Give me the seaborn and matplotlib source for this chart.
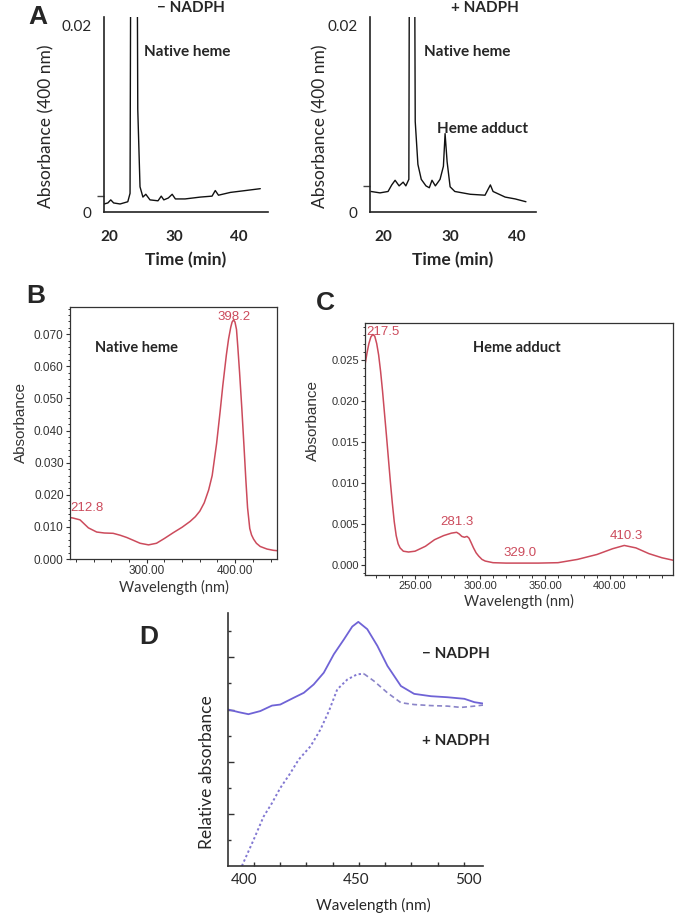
import matplotlib
matplotlib.use("Agg")
import matplotlib.pyplot as plt
from matplotlib.ticker import FixedLocator, MultipleLocator, NullFormatter
import seaborn as sns

# Panel A: HPLC traces, absorbance at 400 nm vs retention time
time_minus = [19.1, 19.7, 20.15, 20.6, 21.6, 22.8, 23.15, 23.35, 24.15, 24.35, 24.7, 25.15, 25.6, 26.25,
              27.5, 28.0, 28.4, 29.1, 29.7, 30.2, 31.7, 34.1, 35.9, 36.4, 36.9, 38.75, 41.1, 43.4]
abs_minus = [0.00086, 0.00097, 0.0013, 0.00097, 0.00086, 0.0011, 0.002, 0.05, 0.05, 0.011, 0.0027, 0.0016,
             0.0019, 0.0013, 0.0012, 0.0017, 0.0013, 0.0015, 0.0019, 0.0014, 0.0014, 0.0016, 0.0017, 0.0023,
             0.0018, 0.0021, 0.0023, 0.0025]
time_plus = [18.2, 19.55, 20.75, 21.3, 21.8, 22.4, 23.0, 23.4, 23.85, 24.0, 24.6, 24.8, 25.2, 25.7, 26.4,
             26.9, 27.3, 27.8, 28.5, 29.0, 29.25, 29.55, 30.0, 30.7, 33.0, 35.2, 36.0, 36.4, 38.2, 39.7, 41.3]
abs_plus = [0.0022, 0.00205, 0.0022, 0.0029, 0.0034, 0.0028, 0.0032, 0.0028, 0.0035, 0.05, 0.05, 0.0097,
            0.0051, 0.0035, 0.0028, 0.0026, 0.0034, 0.0028, 0.0035, 0.0049, 0.0084, 0.0054, 0.0027, 0.0022,
            0.0019, 0.0018, 0.0029, 0.0022, 0.0016, 0.0014, 0.0011]
baseline_mark = [0.0017, 0.0028]

# Panel B: native heme spectrum
wl_native = [213.3, 216, 224.5, 234, 243.4, 252, 262, 270, 277.4, 285, 292.5, 302, 311, 320, 330, 340, 349,
             355, 360, 365, 370, 374, 379, 383, 386, 390, 392.5, 395, 396.5, 398.2, 399.8, 401.5, 403,
             405, 407.5, 410, 412, 414, 416.5, 418.5, 420.8, 424, 428.3, 436, 443.3, 447.3]
abs_native = [0.0129, 0.0128, 0.0122, 0.0097, 0.0084, 0.0081, 0.0080, 0.0074, 0.0067, 0.0058, 0.0049, 0.0044,
              0.0049, 0.0064, 0.0082, 0.0099, 0.0117, 0.0132, 0.0149, 0.0175, 0.0215, 0.026, 0.036, 0.046,
              0.054, 0.0635, 0.0685, 0.0722, 0.0738, 0.0745, 0.0738, 0.0715, 0.066, 0.058, 0.047, 0.035,
              0.025, 0.016, 0.0095, 0.0075, 0.0062, 0.0049, 0.0039, 0.0031, 0.0027, 0.0026]

# Panel C: heme adduct spectrum
wl_adduct = [211.5, 213, 214.5, 216, 217.5, 219, 220.5, 222, 223.5, 225, 226.5, 228, 229.5, 231, 232.5, 234,
             235.5, 237, 238.5, 241, 245, 250, 258, 265, 272, 278, 282, 284, 286, 288, 290, 291.5, 293, 295,
             297, 299, 301.5, 304, 310, 320, 330, 345, 360, 375, 390, 402, 411, 420, 430, 440, 448.5]
abs_adduct = [0.0244, 0.0258, 0.0270, 0.0278, 0.0281, 0.0279, 0.0270, 0.0256, 0.0236, 0.0212, 0.0185,
              0.0158, 0.0130, 0.0102, 0.0076, 0.0053, 0.0036, 0.0026, 0.0021, 0.0017, 0.0016, 0.0017, 0.0023,
              0.0031, 0.0036, 0.0039, 0.0040, 0.0038, 0.0035, 0.0034, 0.0035, 0.0033, 0.0028, 0.0021, 0.0015,
              0.0011, 0.0007, 0.0005, 0.0003, 0.00025, 0.00025, 0.00025, 0.0003, 0.0007, 0.0013, 0.0020,
              0.0024, 0.0021, 0.0014, 0.0009, 0.0006]

# Panel D: relative absorbance (arbitrary units)
wl_d_minus = [392.8, 397.5, 401.9, 407.2, 412.4, 416.1, 422.1, 426.6, 431.0, 435.5, 440.0, 444.5, 448.2,
              450.9, 454.9, 459.4, 463.9, 469.9, 475.8, 483.3, 490.7, 498.2, 502.7, 506.5]
rel_d_minus = [6.00, 5.90, 5.82, 5.94, 6.15, 6.19, 6.45, 6.64, 6.96, 7.41, 8.12, 8.69, 9.18, 9.36, 9.08,
               8.44, 7.67, 6.90, 6.60, 6.51, 6.47, 6.41, 6.28, 6.23]
wl_d_plus = [399.0, 404.2, 408.7, 412.4, 416.1, 420.6, 424.3, 429.6, 434.0, 437.8, 441.5, 446.0, 450.4,
             453.4, 457.9, 463.9, 469.9, 475.8, 483.3, 490.7, 496.7, 502.7, 506.5]
rel_d_plus = [0.0, 1.00, 1.90, 2.41, 2.99, 3.56, 4.08, 4.59, 5.23, 5.94, 6.77, 7.15, 7.35, 7.37, 7.09, 6.64,
              6.26, 6.19, 6.15, 6.13, 6.08, 6.13, 6.17]

# peak labels for B and C
peaks_b = [("212.8", 214, 0.0159, "left"), ("398.2", 398.3, 0.0755, "center")]
peaks_c = [("217.5", 212.3, 0.0284, "left"), ("281.3", 282, 0.0052, "center"),
           ("329.0", 330.7, 0.0015, "center"), ("410.3", 412.8, 0.0035, "center")]

sns.set_style("ticks")
plt.rcParams['font.family'] = ['Lato', 'DejaVu Sans']

W, H = 678, 916
fig = plt.figure(figsize=(W / 100, H / 100), dpi=100)


def rect(l, t, r, b):
    return [l / W, 1 - b / H, (r - l) / W, (b - t) / H]


RED = "#cc4b5c"
ARIAL = ['Liberation Sans', 'DejaVu Sans']

# ---------------- A ----------------
panels_a = [
    (104, 268, time_minus, abs_minus, "\u2212 NADPH", 0.53, (19.1, 44.6), -0.30, baseline_mark[0]),
    (370, 536, time_plus, abs_plus, "+ NADPH", 0.69, (18.06, 42.8), -0.25, baseline_mark[1]),
]
for (l, r, x, y, title, tx, xlim, ylab_x, mark) in panels_a:
    ax = fig.add_axes(rect(l, 17, r, 212))
    sns.lineplot(x=x, y=y, ax=ax, color="#111111", linewidth=1.0)
    ax.set_xlim(*xlim)
    ax.set_ylim(0, 0.0209)
    sns.despine(ax=ax)
    for s in ("left", "bottom"):
        ax.spines[s].set_linewidth(1.2)
        ax.spines[s].set_color("#222222")
    ax.set_yticks([0, 0.02])
    ax.set_yticklabels(["0", "0.02"], fontsize=11)
    ax.yaxis.set_minor_locator(FixedLocator([mark]))
    ax.tick_params(axis="y", which="minor", length=5, width=1.0, color="#444444")
    ax.set_xticks([20, 30, 40])
    ax.set_xticklabels(["20", "30", "40"], fontsize=11, fontweight="bold")
    ax.tick_params(axis="both", which="major", length=0)
    ax.tick_params(axis="y", which="major", pad=9)
    ax.tick_params(axis="x", which="major", pad=13)
    ax.set_xlabel("Time (min)", fontsize=12.5, fontweight="bold", labelpad=6)
    ax.set_ylabel("Absorbance (400 nm)", fontsize=12.5)
    ax.yaxis.set_label_coords(ylab_x, 0.44)
    ax.text(tx, 1.046, title, transform=ax.transAxes, ha="center", va="center",
            fontsize=11, fontweight="bold")
    if title.startswith("+"):
        ax.text(32.5, 0.0171, "Native heme", ha="center", va="center", fontsize=11, fontweight="bold")
        ax.text(34.9, 0.0089, "Heme adduct", ha="center", va="center", fontsize=11, fontweight="bold")
    else:
        ax.text(32.0, 0.0171, "Native heme", ha="center", va="center", fontsize=11, fontweight="bold")

# ---------------- B ----------------
axb = fig.add_axes(rect(70, 307, 277, 559))
sns.lineplot(x=wl_native, y=abs_native, ax=axb, color=RED, linewidth=1.1)
axb.set_xlim(213.2, 447.3)
axb.set_ylim(0, 0.0785)
axb.set_xticks([300, 400])
axb.set_xticklabels(["300.00", "400.00"])
axb.xaxis.set_minor_locator(MultipleLocator(20))
axb.set_yticks([0.0, 0.01, 0.02, 0.03, 0.04, 0.05, 0.06, 0.07])
axb.set_yticklabels(["0.000", "0.010", "0.020", "0.030", "0.040", "0.050", "0.060", "0.070"])
axb.yaxis.set_minor_locator(MultipleLocator(0.002))
axb.set_xlabel("Wavelength (nm)", fontsize=10.5, labelpad=2)
axb.set_ylabel("Absorbance", fontsize=11, family=ARIAL)
axb.yaxis.set_label_coords(-0.203, 0.54)
axb.text(288, 0.0657, "Native heme", ha="center", va="center", fontsize=10.5, fontweight="bold")
for lab, px, py, ha in peaks_b:
    axb.text(px, py, lab, ha=ha, va="center", color=RED, fontsize=9.5, family=ARIAL)

# ---------------- C ----------------
axc = fig.add_axes(rect(365, 323, 673, 575))
sns.lineplot(x=wl_adduct, y=abs_adduct, ax=axc, color=RED, linewidth=1.1)
axc.set_xlim(211.5, 448.5)
axc.set_ylim(-0.0012, 0.0295)
axc.set_xticks([250, 300, 350, 400])
axc.set_xticklabels(["250.00", "300.00", "350.00", "400.00"])
axc.xaxis.set_minor_locator(MultipleLocator(10))
axc.set_yticks([0.0, 0.005, 0.01, 0.015, 0.02, 0.025])
axc.set_yticklabels(["0.000", "0.005", "0.010", "0.015", "0.020", "0.025"])
axc.yaxis.set_minor_locator(MultipleLocator(0.001))
axc.set_xlabel("Wavelength (nm)", fontsize=10.5, labelpad=2)
axc.set_ylabel("Absorbance", fontsize=11, family=ARIAL)
axc.yaxis.set_label_coords(-0.146, 0.615)
axc.text(328.4, 0.0265, "Heme adduct", ha="center", va="center", fontsize=10.5, fontweight="bold")
for lab, px, py, ha in peaks_c:
    axc.text(px, py, lab, ha=ha, va="center", color=RED, fontsize=9.5, family=ARIAL)

for ax in (axb, axc):
    for s in ax.spines.values():
        s.set_linewidth(0.9)
        s.set_color("#333333")
    ax.tick_params(axis="both", which="major", length=3, width=0.8, pad=1.5,
                   labelsize=8.5, colors="#333333")
    ax.tick_params(axis="both", which="minor", length=1.8, width=0.7, colors="#333333")
    for lbl in ax.get_xticklabels() + ax.get_yticklabels():
        lbl.set_family(ARIAL)
    ax.xaxis.label.set_color("#333333")
    ax.yaxis.label.set_color("#333333")
axc.tick_params(axis="both", which="major", labelsize=8)

# ---------------- D ----------------
axd = fig.add_axes(rect(228, 613, 483, 866))
sns.lineplot(x=wl_d_minus, y=rel_d_minus, ax=axd, color="#6f63d6", linewidth=1.3)
# + NADPH trace: dotted on the rising side, dashed after the maximum
split = rel_d_plus.index(max(rel_d_plus))
sns.lineplot(x=wl_d_plus[:split + 1], y=rel_d_plus[:split + 1], ax=axd, color="#8278d2",
             linewidth=1.4, linestyle=(0, (1.2, 1.3)))
sns.lineplot(x=wl_d_plus[split:], y=rel_d_plus[split:], ax=axd, color="#8a84c8",
             linewidth=1.2, linestyle=(0, (3.0, 2.0)))
axd.set_xlim(392.8, 506.5)
axd.set_ylim(0, 9.7)
sns.despine(ax=axd)
for s in ("left", "bottom"):
    axd.spines[s].set_linewidth(1.2)
    axd.spines[s].set_color("#333333")
axd.set_xticks([400, 450, 500])
axd.set_xticklabels(["400", "450", "500"], fontsize=11)
axd.xaxis.set_minor_locator(FixedLocator([404.4, 416.1, 427.8, 439.5, 451.2, 462.9, 474.6, 486.3, 498.0]))
axd.tick_params(axis="x", which="major", length=0, pad=5)
axd.tick_params(axis="x", which="minor", direction="in", length=3, width=1.0, colors="#333333")
axd.set_yticks([2, 4, 6, 8])
axd.set_yticklabels([])
axd.yaxis.set_minor_locator(FixedLocator([1, 3, 5, 7, 9]))
axd.yaxis.set_minor_formatter(NullFormatter())
axd.tick_params(axis="y", which="major", direction="in", length=4, width=1.0, colors="#333333")
axd.tick_params(axis="y", which="minor", direction="in", length=2.5, width=1.0, colors="#333333")
axd.set_xlabel("Wavelength (nm)", fontsize=11)
axd.xaxis.set_label_coords(0.57, -0.125)
axd.set_ylabel("Relative absorbance", fontsize=12.5)
axd.yaxis.set_label_coords(-0.05, 0.37)
axd.text(494.3, 8.12, "\u2212 NADPH", ha="center", va="center", fontsize=11, fontweight="bold")
axd.text(494.3, 4.81, "+ NADPH", ha="center", va="center", fontsize=11, fontweight="bold")

# panel letters
for letter, x, y in [("A", 38, 17), ("B", 36, 296), ("C", 325, 303), ("D", 149, 637)]:
    fig.text(x / W, 1 - y / H, letter, ha="center", va="center", fontsize=19,
             fontweight="bold", family=ARIAL)

plt.savefig("out.png", dpi=100)
plt.close()
